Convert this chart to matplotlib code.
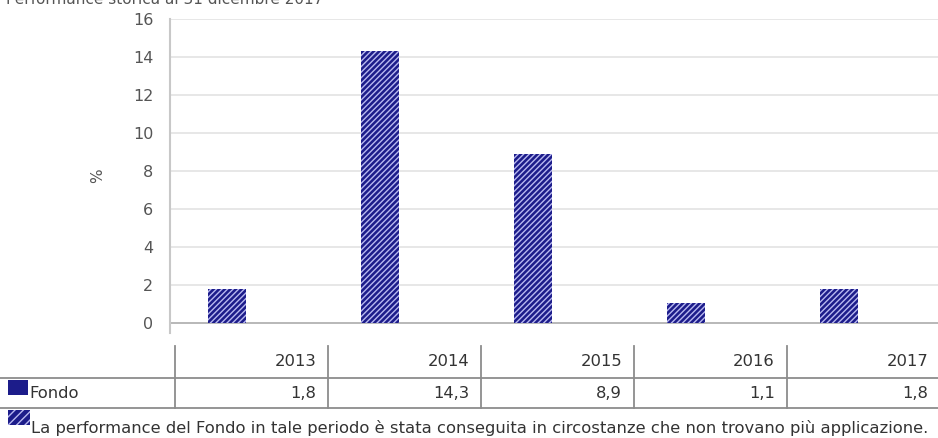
import matplotlib.pyplot as plt
from matplotlib.patches import Rectangle

# Dati
anni = ['2013', '2014', '2015', '2016', '2017']
fondo = [1.8, 14.3, 8.9, 1.1, 1.8]
etichette = ['1,8', '14,3', '8,9', '1,1', '1,8']
titolo = 'Performance storica al 31 dicembre 2017'
nota = 'La performance del Fondo in tale periodo è stata conseguita in circostanze che non trovano più applicazione.'

navy = '#1c1c8a'
righe = '#b8b8f0'
grigio = '#8c8c8c'
font_tab = ['DejaVu Sans']

W, H = 938, 438
fig = plt.figure(figsize=(W / 100, H / 100), dpi=100)

# Grafico a barre
ax = fig.add_axes([170 / W, (H - 333) / H, (W - 170) / W, 314 / H])
x = list(range(len(anni)))
ax.bar([i - 0.16 for i in x], fondo, width=0.25, color=navy, edgecolor=righe,
       hatch='//////', linewidth=0, zorder=3)
ax.set_xlim(-0.533, 4.487)
ax.set_ylim(-0.5, 16)
ax.set_yticks(range(0, 17, 2))
ax.set_xticks([])
ax.grid(axis='y', color='#e3e3e3', linewidth=1.2, zorder=0)
ax.axhline(0, color='#b0b0b0', linewidth=1.2, zorder=2)
for s in ['top', 'right', 'bottom']:
    ax.spines[s].set_visible(False)
ax.spines['left'].set_color('#c8c8c8')
ax.spines['left'].set_linewidth(1.5)
ax.tick_params(axis='y', length=0, pad=12, labelsize=11.5, labelcolor='#555555')
ax.set_ylabel('%', fontsize=11, color='#555555', labelpad=20)

# Tabella e testi in coordinate pixel
ov = fig.add_axes([0, 0, 1, 1], zorder=-1)
ov.set_xlim(0, W)
ov.set_ylim(H, 0)
ov.axis('off')

ov.text(6, -1, titolo, fontsize=11, color='#555555', va='center', ha='left')

bordi = [175 + 153 * i for i in range(len(anni))]
for b in bordi:
    ov.plot([b, b], [346, 408], color=grigio, linewidth=1.3)
ov.plot([0, W], [378, 378], color=grigio, linewidth=1.3)
ov.plot([0, W], [408, 408], color=grigio, linewidth=1.3)

for i, (a, v) in enumerate(zip(anni, etichette)):
    dx = bordi[i] + 153 - 12
    ov.text(dx, 362, a, ha='right', va='center', fontsize=11.8, color='#333333', family=font_tab)
    ov.text(dx, 393, v, ha='right', va='center', fontsize=11.8, color='#333333', family=font_tab)

ov.add_patch(Rectangle((8, 380), 20, 15, facecolor=navy, edgecolor='none'))
ov.text(29, 394, 'Fondo', ha='left', va='center', fontsize=11.8, color='#333333', family=font_tab)

ov.add_patch(Rectangle((8, 410), 22, 15, facecolor=navy, edgecolor=righe, hatch='////', linewidth=0))
ov.text(31, 428, nota, ha='left', va='center', fontsize=11.8, color='#333333', family=font_tab)

plt.savefig('out.png', dpi=100)
